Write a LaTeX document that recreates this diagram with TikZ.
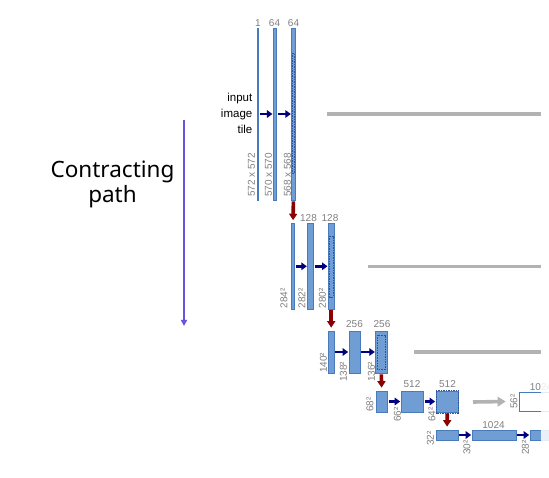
\documentclass[tikz,border=0pt]{standalone}
\usepackage{fontspec}
\setmainfont{Liberation Sans}
\newfontfamily\titlefont{Noto Sans}
\usetikzlibrary{arrows.meta}
\definecolor{barfill}{RGB}{112,158,212}
\definecolor{barline}{RGB}{72,122,190}
\definecolor{dashline}{RGB}{45,85,155}
\definecolor{lblgray}{RGB}{128,128,128}
\definecolor{copygray}{RGB}{178,178,178}
\definecolor{convblue}{RGB}{0,0,128}
\definecolor{poolred}{RGB}{139,0,0}
\definecolor{pathpurple}{RGB}{104,84,222}
\begin{document}
\begin{tikzpicture}[x=1pt,y=-1pt,
  bar/.style={draw=barline,fill=barfill,line width=0.7pt,inner sep=0pt,rectangle},
  wbar/.style={draw=barline,fill=white,line width=0.7pt,inner sep=0pt,rectangle},
  inner/.style={draw=dashline,line width=0.6pt,dash pattern=on 1.5pt off 1pt},
  num/.style={text=lblgray,font=\fontsize{10}{11}\selectfont,inner sep=0pt,anchor=base},
  size/.style={text=lblgray,font=\fontsize{10}{11}\selectfont,inner sep=0pt,rotate=90,anchor=west},
  conv/.style={draw=convblue,line width=2.6pt,-{Triangle[length=5.5pt,width=7.5pt]},shorten <=1pt,shorten >=0.5pt},
  pool/.style={draw=poolred,line width=3.6pt,-{Triangle[length=6.5pt,width=8pt]},shorten <=1pt,shorten >=3pt},
  copyline/.style={draw=copygray,line width=3.6pt},
  copyarrow/.style={draw=copygray,line width=3.6pt,-{Triangle[length=8pt,width=9.5pt]}}
]
\useasboundingbox (0,0) rectangle (549,478);
\fill[white] (0,0) rectangle (549,478);

% ---- level 1
\node[bar,minimum width=1.2pt,minimum height=172pt] (b11) at (258,114) {};
\node[bar,minimum width=3.4pt,minimum height=172pt] (b12) at (275,114) {};
\node[bar,minimum width=3.4pt,minimum height=172pt] (b13) at (293.4,114) {};
\draw[inner] (292.3,53) rectangle (294.5,173);
\node[num] (n11) at (258,27) {1};
\node[num] (n12) at (274.5,27) {64};
\node[num] (n13) at (293.5,27) {64};
\node[size] (s11) at (251.5,197) {572 x 572};
\node[size] (s12) at (268.5,197) {570 x 570};
\node[size] (s13) at (287.5,197) {568 x 568};
\draw[conv] (b11.east) -- (b12.west);
\draw[conv] (b12.east) -- (b13.west);
\node[align=right,anchor=east,inner sep=0pt,font=\fontsize{11.5}{16}\selectfont] (inp) at (252.5,113) {input\\image\\tile};
\coordinate (c1a) at (327,114);
\coordinate (c1b) at (541,114);
\draw[copyline] (c1a) -- (c1b);

% ---- level 2
\node[bar,minimum width=2.6pt,minimum height=85.5pt] (b21) at (293,266.3) {};
\node[bar,minimum width=6pt,minimum height=85.5pt] (b22) at (310.7,266.3) {};
\node[bar,minimum width=5.7pt,minimum height=85.5pt] (b23) at (331.2,266.3) {};
\draw[inner] (329.6,236) rectangle (332.8,297);
\node[num] (n22) at (308.5,222) {128};
\node[num] (n23) at (330,222) {128};
\node[size] (s21) at (284,308.5) {284²};
\node[size] (s22) at (302,308.5) {282²};
\node[size] (s23) at (322.5,308.5) {280²};
\draw[conv] (b21.east) -- (b22.west);
\draw[conv] (b22.east) -- (b23.west);
\draw[pool] (b13.south) -- (b21.north);
\coordinate (c2a) at (368,266.5);
\coordinate (c2b) at (541,266.5);
\draw[copyline] (c2a) -- (c2b);

% ---- level 3
\node[bar,minimum width=5.7pt,minimum height=42pt] (b31) at (331.2,352) {};
\node[bar,minimum width=11pt,minimum height=42pt] (b32) at (354.5,352) {};
\node[bar,minimum width=11.3pt,minimum height=42pt] (b33) at (381.3,352) {};
\draw[inner] (377.6,335) rectangle (385,369);
\node[num] (n32) at (354.5,328) {256};
\node[num] (n33) at (382,328) {256};
\node[size] (s31) at (323.5,373) {140²};
\node[size] (s32) at (343.5,382) {138²};
\node[size] (s33) at (371.5,382) {136²};
\draw[conv] (b31.east) -- (b32.west);
\draw[conv] (b32.east) -- (b33.west);
\draw[pool] (b23.south) -- (b31.north);
\coordinate (c3a) at (414,352);
\coordinate (c3b) at (541,352);
\draw[copyline] (c3a) -- (c3b);

% ---- level 4
\node[bar,minimum width=11.3pt,minimum height=21pt] (b41) at (381.7,401.5) {};
\node[bar,minimum width=22.3pt,minimum height=21pt] (b42) at (412.2,401.5) {};
\node[bar,minimum width=22.7pt,minimum height=21pt] (b43) at (447.3,401.5) {};
\draw[inner] ([shift={(0.6pt,-0.6pt)}]b43.south west) rectangle ([shift={(-0.6pt,0.6pt)}]b43.north east);
\node[wbar,minimum width=42pt,minimum height=19pt] (b44) at (540,401.5) {};
\node[num] (n42) at (412,388) {512};
\node[num] (n43) at (447.5,388) {512};
\node[num] (n44) at (541,390.5) {1024};
\node[size] (s41) at (370,412) {68²};
\node[size] (s42) at (397.5,422) {66²};
\node[size] (s43) at (432,422) {64²};
\node[size] (s44) at (514,409) {56²};
\draw[conv] (b41.east) -- (b42.west);
\draw[conv] (b42.east) -- (b43.west);
\draw[pool] (b33.south) -- (b41.north);
\coordinate (c4a) at (473,402);
\draw[copyarrow] (c4a) -- ([xshift=-13pt]b44.west);

% ---- level 5
\node[bar,minimum width=21.7pt,minimum height=10pt] (b51) at (447,435) {};
\node[bar,minimum width=44pt,minimum height=10pt] (b52) at (494,435) {};
\node[bar,minimum width=30pt,minimum height=10pt] (b53) at (545,435) {};
\node[num] (n52) at (493.5,428) {1024};
\node[size] (s51) at (430.5,446) {32²};
\node[size] (s52) at (467,455) {30²};
\node[size] (s53) at (525.5,455) {28²};
\draw[conv] (b51.east) -- (b52.west);
\draw[conv] (b52.east) -- (b53.west);
\draw[pool] (b43.south) -- (b51.north);

% ---- faded right edge
\fill[white,opacity=0.85] (540.5,0) rectangle (549,478);

% ---- contracting path
\coordinate (pa) at (184,120);
\coordinate (pb) at (184,326);
\draw[pathpurple,line width=1.8pt,-{Triangle[length=6pt,width=6pt]}] (pa) -- (pb);
\node[align=center,inner sep=0pt,font=\titlefont\fontsize{22.5}{25}\selectfont,anchor=base] (ct) at (112.5,202.7) {Contracting\\path};
\end{tikzpicture}
\end{document}
